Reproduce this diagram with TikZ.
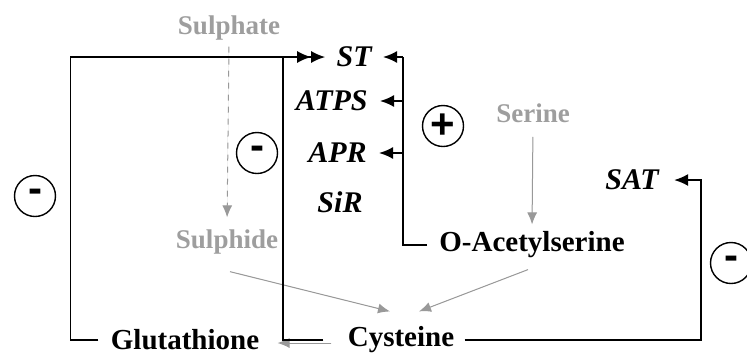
\documentclass[tikz,border=0pt]{standalone}
\usepackage{fontspec}
\setmainfont{Liberation Serif}
\setsansfont{Liberation Sans}
\usetikzlibrary{arrows.meta}

\definecolor{txtgray}{gray}{0.62}
\definecolor{flowgray}{gray}{0.6}

\tikzset{
    met/.style={font=\fontsize{14.5}{16}\selectfont\bfseries, inner sep=1pt},
    src/.style={font=\fontsize{13.5}{15}\selectfont\bfseries, text=txtgray, inner sep=1pt},
    enz/.style={font=\fontsize{15}{17}\selectfont\bfseries\itshape, inner sep=1pt},
    sign/.style={draw, circle, line width=0.7pt, minimum size=20.5pt, inner sep=0pt,
        font=\sffamily\bfseries\fontsize{21}{21}\selectfont},
    flux/.style={-{Latex[length=6pt, width=5pt]}, draw=flowgray, fill=flowgray, line width=0.5pt},
    ctrl/.style={line width=0.9pt},
}

\begin{document}
\begin{tikzpicture}[>={Latex[length=7pt, width=6pt]}, x=0.5pt, y=-0.5pt]
    \useasboundingbox (0,0) rectangle (747,355);
    \clip (0,0) rectangle (747,355);

    % 1. Các chất
    \node[src] (sulphate) at (229,28) {Sulphate};
    \node[src] (sulphide) at (227,242) {Sulphide};
    \node[src] (serine) at (533,113) {Serine};
    \node[met] (oas) at (532,245) {O-Acetylserine};
    \node[met] (cys) at (401,340) {Cysteine};
    \node[met] (glut) at (185,340) {Glutathione};

    % 2. Các enzyme
    \node[enz, anchor=east] (st) at (374,57) {ST};
    \node[enz, anchor=east] (atps) at (370,101) {ATPS};
    \node[enz, anchor=east] (apr) at (369,153) {APR};
    \node[enz] (sir) at (340,202) {SiR};
    \node[enz] (sat) at (632,180) {SAT};

    % 3. Dòng chuyển hóa (màu xám)
    \draw[flux, dashed, shorten <=2pt, shorten >=5pt] (sulphate.south) -- (sulphide.north);
    \draw[flux, shorten <=6pt, shorten >=2.5pt] (serine.south) -- (oas.north);
    \draw[flux] ([xshift=1.5pt, yshift=-7.5pt]sulphide.south) -- ([xshift=-5.5pt, yshift=6.5pt]cys.north);
    \draw[flux] ([xshift=-2pt, yshift=-4.5pt]oas.south) -- ([xshift=9pt, yshift=6.5pt]cys.north);
    \draw[flux, shorten <=7pt, shorten >=8pt] ([yshift=-1.5pt]cys.west) -- ([yshift=-1.5pt]glut.east);

    % 4. Điều hòa (màu đen)
    \coordinate (bus) at (403,57);
    \coordinate (cjoin) at (283,57);
    \coordinate (satbus) at (701,340);
    \draw[ctrl, ->>, shorten <=5pt, shorten >=4.5pt] (glut.west) -- ++(-38,0) |- (st.west);
    \draw[ctrl] ([xshift=-11pt]cys.west) -| (cjoin);
    \draw[ctrl, shorten <=5pt] (oas.west) -| (bus);
    \draw[ctrl, ->, shorten >=4.5pt] (bus) -- (st.east);
    \draw[ctrl, ->, shorten >=5pt] (bus |- atps) -- (atps.east);
    \draw[ctrl, ->, shorten >=5pt] (bus |- apr) -- (apr.east);
    \draw[ctrl, ->, shorten <=4pt, shorten >=6.5pt] (cys.east) -- (satbus) |- (sat.east);

    % 5. Dấu kích thích / ức chế
    \node[sign] (inhA) at (35,196) {-};
    \node[sign] (inhB) at (257,153) {-};
    \node[sign] (act) at (443,126) {+};
    \node[sign] (inhC) at (731,263) {-};
\end{tikzpicture}
\end{document}
